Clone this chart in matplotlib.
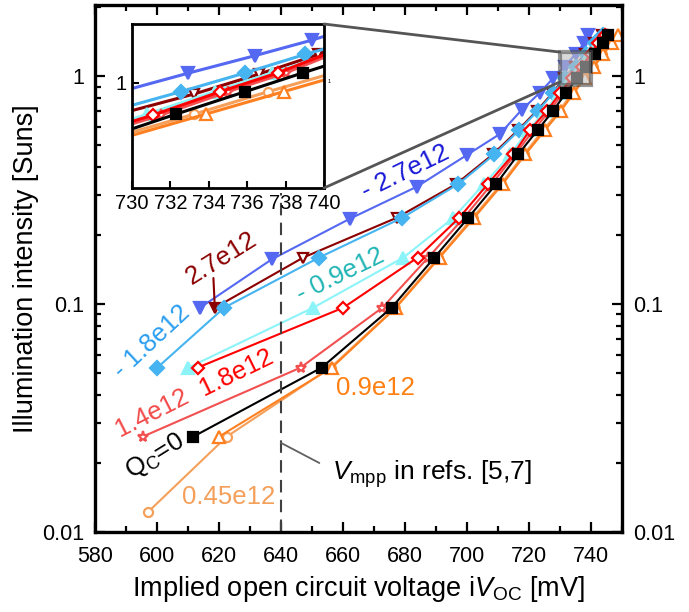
import numpy as np
import matplotlib
matplotlib.use("Agg")
import matplotlib.pyplot as plt
from matplotlib.ticker import LogLocator, NullFormatter, MultipleLocator, FixedLocator
from matplotlib.patches import Rectangle, ConnectionPatch

plt.rcParams["font.family"] = ["Liberation Sans", "DejaVu Sans"]
plt.rcParams["mathtext.fontset"] = "custom"
plt.rcParams["mathtext.rm"] = "Liberation Sans"
plt.rcParams["mathtext.it"] = "Liberation Sans:italic"

# ---- main panel data (iVoc in mV, illumination in Suns) ----
q0_x = [611.7, 653.1, 675.7, 689.5, 700.4, 709.4, 716.5, 722.8, 727.8, 731.8, 735.5, 738.4, 741.3, 744.0, 745.6]
q0_y = [0.0262, 0.0526, 0.0964, 0.160, 0.239, 0.336, 0.453, 0.580, 0.704, 0.840, 0.98, 1.10, 1.25, 1.39, 1.52]

p045_x = [597.0, 622.5, 656.0, 676.8, 690.8, 701.8, 711.0, 718.3, 724.6, 729.7, 733.9, 737.6, 740.6, 743.6, 746.2]
p045_y = [0.0122, 0.0262, 0.0526, 0.0964, 0.160, 0.239, 0.336, 0.453, 0.580, 0.704, 0.840, 0.98, 1.10, 1.25, 1.39]

p09_x = [620.0, 656.4, 677.1, 691.2, 702.3, 711.5, 718.8, 725.2, 730.3, 734.4, 738.0, 741.0, 744.0, 746.7, 748.8]
p09_y = [0.0262, 0.0526, 0.0964, 0.160, 0.239, 0.336, 0.453, 0.580, 0.704, 0.840, 0.98, 1.10, 1.25, 1.39, 1.52]

p14_x = [595.4, 646.3, 672.7, 687.5, 699.0, 708.0, 715.5, 721.5, 726.7, 730.9, 734.6, 737.7, 740.6, 743.2, 745.0]
p14_y = [0.0262, 0.0526, 0.0964, 0.160, 0.239, 0.336, 0.453, 0.580, 0.704, 0.840, 0.98, 1.10, 1.25, 1.39, 1.52]

p18_x = [613.1, 660.1, 684.1, 697.5, 706.7, 714.9, 720.3, 725.8, 730.0, 733.8, 737.0, 739.9, 742.3, 744.4]
p18_y = [0.0526, 0.0964, 0.160, 0.239, 0.336, 0.453, 0.580, 0.704, 0.840, 0.98, 1.10, 1.25, 1.39, 1.52]

p27_x = [618.7, 647.2, 677.3, 696.5, 708.3, 716.5, 722.5, 727.5, 731.3, 734.8, 738.0, 741.0, 743.6]
p27_y = [0.0964, 0.160, 0.239, 0.336, 0.453, 0.580, 0.704, 0.840, 0.98, 1.10, 1.25, 1.39, 1.52]

n09_x = [610.1, 650.4, 679.5, 695.6, 705.5, 714.0, 719.8, 725.3, 729.6, 733.3, 736.6, 739.5, 742.0, 744.2]
n09_y = [0.0526, 0.0964, 0.160, 0.239, 0.336, 0.453, 0.580, 0.704, 0.840, 0.98, 1.10, 1.25, 1.39, 1.52]

n18_x = [600.1, 621.7, 652.3, 679.1, 697.2, 708.8, 716.9, 722.8, 727.8, 731.5, 735.0, 738.3, 741.2, 743.8]
n18_y = [0.0526, 0.0964, 0.160, 0.239, 0.336, 0.453, 0.580, 0.704, 0.840, 0.98, 1.10, 1.25, 1.39, 1.52]

n27_x = [613.9, 637.0, 662.3, 683.8, 699.9, 710.6, 717.6, 723.5, 727.8, 731.5, 735.0, 737.7, 739.1]
n27_y = [0.0964, 0.157, 0.237, 0.327, 0.45, 0.557, 0.71, 0.845, 0.98, 1.10, 1.25, 1.39, 1.51]

# ---- inset data (zoom 730-740 mV) ----
in_n27_x = [728, 732.9, 736.4, 739.4, 742]
in_n27_y = [0.964, 1.021, 1.062, 1.100, 1.139]
in_n18_x = [728, 732.55, 735.9, 739.0, 742]
in_n18_y = [0.928, 0.980, 1.022, 1.065, 1.104]
in_p27_x = [728, 733.25, 736.6, 739.7, 742]
in_p27_y = [0.918, 0.975, 1.019, 1.065, 1.099]
in_n09_x = [728, 730.8, 734.3, 737.3, 742]
in_n09_y = [0.895, 0.932, 0.980, 1.022, 1.090]
in_p18_x = [728, 731.1, 734.6, 737.6, 742]
in_p18_y = [0.893, 0.930, 0.980, 1.022, 1.100]
in_p14_x = [728, 731.5, 735.0, 738.0, 742]
in_p14_y = [0.888, 0.930, 0.980, 1.022, 1.095]
in_q0_x = [728, 732.3, 735.9, 738.9, 742]
in_q0_y = [0.876, 0.932, 0.980, 1.022, 1.066]
in_p09_x = [728, 733.85, 737.9, 742]
in_p09_y = [0.867, 0.932, 0.980, 1.031]
in_p045_x = [728, 733.25, 737.1, 742]
in_p045_y = [0.873, 0.932, 0.980, 1.041]

vmpp = 640
zoom_box = (730, 740, 0.913, 1.274)

# (main x, main y, inset x, inset y, colour, marker, filled, size)
series = [
    (n27_x, n27_y, in_n27_x, in_n27_y, "#5468f2", "v", True, 8.5),
    (p27_x, p27_y, in_p27_x, in_p27_y, "#8b0000", "v", False, 7.5),
    (n18_x, n18_y, in_n18_x, in_n18_y, "#45b4f0", "D", True, 7),
    (n09_x, n09_y, in_n09_x, in_n09_y, "#8cf4f8", "^", True, 8),
    (p045_x, p045_y, in_p045_x, in_p045_y, "#f5a05a", "o", False, 6.5),
    (p09_x, p09_y, in_p09_x, in_p09_y, "#ff8020", "^", False, 8),
    (p14_x, p14_y, in_p14_x, in_p14_y, "#f25050", "*", False, 8),
    (p18_x, p18_y, in_p18_x, in_p18_y, "#ff0000", "D", False, 6.5),
    (q0_x, q0_y, in_q0_x, in_q0_y, "#000000", "s", True, 7),
]

fig = plt.figure(figsize=(6.89, 6.12), dpi=100)
ax = fig.add_axes([95 / 689, 1 - 532 / 612, 527 / 689, 527 / 612])

for mx, my, ix, iy, c, m, filled, ms in series:
    ax.plot(mx, my, color=c, lw=1.5, marker=m, ms=ms,
            mfc=c if filled else "white", mec=c, mew=1.6)

ax.set_yscale("log")
ax.set_xlim(580, 750)
ax.set_ylim(0.01, 2.05)
ax.xaxis.set_minor_locator(MultipleLocator(10))
ax.set_xticks([580, 600, 620, 640, 660, 680, 700, 720, 740])
ax.set_yticks([0.01, 0.1, 1])
ax.set_yticklabels(["0.01", "0.1", "1"])
ax.yaxis.set_minor_locator(LogLocator(base=10, subs=np.arange(2, 10)))
ax.yaxis.set_minor_formatter(NullFormatter())
ax.tick_params(which="both", direction="in", top=True, right=True,
               labelright=True, labelsize=15.5, width=1.6)
ax.tick_params(which="major", length=7, pad=8)
ax.tick_params(which="minor", length=4)
ax.tick_params(axis="x", pad=10)
for s in ax.spines.values():
    s.set_linewidth(2.4)

ax.set_xlabel(r"Implied open circuit voltage i$\mathit{V}_{\mathrm{OC}}$ [mV]",
              fontsize=19.5, labelpad=5)
ax.set_ylabel("Illumination intensity [Suns]", fontsize=19.5, labelpad=2)

# V_mpp marker line
ax.plot([vmpp, vmpp], [0.01, 0.307], color="#404040", lw=1.5, ls=(0, (6, 3.5)))
ax.plot([vmpp, 652.3], [0.0246, 0.0201], color="#606060", lw=1.3)
ax.text(656.5, 0.0180, r"$V_{\mathrm{mpp}}$ in refs. [5,7]", fontsize=19,
        ha="left", va="center")

# curve labels
lab = dict(fontsize=18.5, ha="center", va="center", rotation_mode="anchor")
ax.text(680, 0.379, "- 2.7e12", color="#1818d8", rotation=26, **lab)
ax.text(659.2, 0.134, "- 0.9e12", color="#20b4b4", rotation=26, **lab)
ax.text(598.3, 0.0684, "- 1.8e12", color="#2a9ef0", rotation=43, **lab)
ax.text(620.9, 0.159, "2.7e12", color="#8b0000", rotation=32, **lab)
ax.text(625.7, 0.050, "1.8e12", color="#ff0000", rotation=26, **lab)
ax.text(598.5, 0.0332, "1.4e12", color="#f24848", rotation=27, **lab)
ax.text(599.4, 0.0214, r"Q$_{\mathrm{C}}$=0", color="black", rotation=32, **lab)
ax.text(670.6, 0.0427, "0.9e12", color="#ff7f10", **lab)
ax.text(623, 0.0143, "0.45e12", color="#f5a05a", **lab)
ax.annotate("", xy=(618.7, 0.093), xytext=(618.2, 0.13),
            arrowprops=dict(arrowstyle="-|>", color="#8b0000", lw=1.5,
                            mutation_scale=10, shrinkA=0, shrinkB=0))

# zoom box on the main panel
x0, x1, y0, y1 = zoom_box
ax.add_patch(Rectangle((x0, y0), x1 - x0, y1 - y0, facecolor="#c0c0c0",
                       alpha=0.6, edgecolor="#505050", lw=3, zorder=10))

# inset
axins = fig.add_axes([132 / 689, 1 - 188 / 612, 192 / 689, 164 / 612])
for mx, my, ix, iy, c, m, filled, ms in series:
    axins.plot(ix, iy, color=c, lw=2.2, marker=m, ms=ms,
               mfc=c if filled else "white", mec=c, mew=1.6)
axins.set_yscale("log")
axins.set_xlim(730, 740)
axins.set_ylim(0.79, 1.14)
axins.set_xticks([730, 732, 734, 736, 738, 740])
axins.yaxis.set_major_locator(FixedLocator([1]))
axins.set_yticklabels(["1"])
axins.yaxis.set_minor_locator(FixedLocator([]))
axins.tick_params(which="both", direction="in", labelsize=14.5, width=1.5,
                  length=5, pad=4)
for s in axins.spines.values():
    s.set_linewidth(2)
axins.text(1.02, 0.64, "1", transform=axins.transAxes, fontsize=4)

for ya, yb in [(1, y1), (0, y0 + 0.03)]:
    con = ConnectionPatch(xyA=(1, ya), coordsA=axins.transAxes,
                          xyB=(x0, yb), coordsB=ax.transData,
                          color="#555555", lw=2)
    fig.add_artist(con)

fig.savefig("out.png", dpi=100)
